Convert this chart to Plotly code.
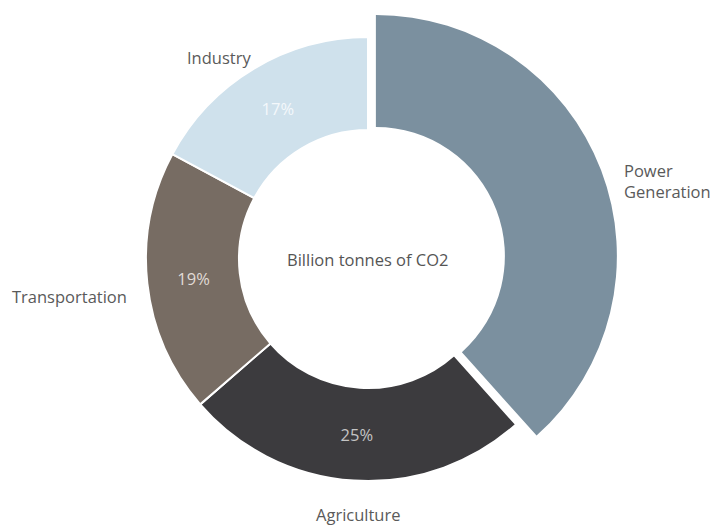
import math
import plotly.graph_objects as go

sectors = ["Power Generation", "Agriculture", "Transportation", "Industry"]
label_text = ["Power<br>Generation", "Agriculture", "Transportation", "Industry"]
shares = [38, 25, 19, 17]
colors = ["#7b909f", "#3c3b3e", "#776c63", "#cfe1ec"]
pct_colors = ["#e3e8ec", "#c4c4c4", "#e0dbd6", "#f4f8fb"]
center_text = "Billion tonnes of CO2"

W, H = 719, 525
cx, cy = 368, 259
R_base, R_inner, R_big = 222, 129, 241
pull_big = 0.035
# label ellipse: semi-axes and centre offset (px)
LAB_A, LAB_B, LAB_DX, LAB_DY = 310, 246, 10, 10

FONT = "Open Sans, Lato, sans-serif"
FS = 16.5
TRANSPARENT = "rgba(0,0,0,0)"


def dom(r):
    return dict(x=[(cx - r) / W, (cx + r) / W],
                y=[(H - cy - r) / H, (H - cy + r) / H])


fig = go.Figure()

# base ring with percentages
fig.add_trace(go.Pie(
    labels=sectors, values=shares, sort=False, direction="clockwise", rotation=0,
    domain=dom(R_base), hole=R_inner / R_base,
    marker=dict(colors=[TRANSPARENT] + colors[1:],
                line=dict(color="white", width=[0, 2, 2, 2])),
    texttemplate="%{value}%", textposition="inside", insidetextorientation="horizontal",
    textfont=dict(family=FONT, size=FS, color=pct_colors),
    hoverinfo="label+percent", showlegend=False,
))

# enlarged, pulled Power Generation slice
fig.add_trace(go.Pie(
    labels=sectors, values=shares, sort=False, direction="clockwise", rotation=0,
    domain=dom(R_big * (1 + pull_big)), hole=R_inner / R_big,
    pull=[pull_big, 0, 0, 0],
    marker=dict(colors=[colors[0]] + [TRANSPARENT] * 3, line=dict(width=0)),
    textinfo="none", hoverinfo="skip", showlegend=False,
))

# outside category labels, placed at each slice's mid-angle
total = sum(shares)
cum = 0
for lab, v in zip(label_text, shares):
    mid = (cum + v / 2) / total * 2 * math.pi
    cum += v
    px = cx + LAB_DX + LAB_A * math.sin(mid)
    py = cy + LAB_DY - LAB_B * math.cos(mid)
    fig.add_annotation(text=lab, x=px / W, y=(H - py) / H, xref="paper", yref="paper",
                       showarrow=False, xanchor="center", yanchor="middle", align="left",
                       font=dict(family=FONT, size=FS, color="#5a5a5a"))

fig.add_annotation(text=center_text, x=cx / W, y=(H - cy) / H, xref="paper", yref="paper",
                   showarrow=False, font=dict(family=FONT, size=FS, color="#555555"))

fig.update_layout(width=W, height=H, margin=dict(l=0, r=0, t=0, b=0),
                  paper_bgcolor="white", plot_bgcolor="white")

fig.write_html("out.html")
